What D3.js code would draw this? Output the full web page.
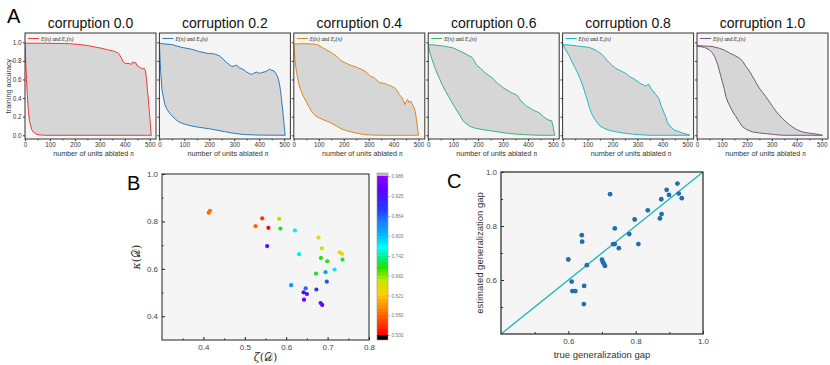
<!DOCTYPE html>
<html><head><meta charset="utf-8">
<script src="https://cdn.jsdelivr.net/npm/d3@7"></script>
<style>
html,body{margin:0;padding:0;background:#fff;}
svg{display:block;font-family:"Liberation Sans",Arial,sans-serif;}
</style></head>
<body><svg id="chart" width="830" height="365"></svg>
<script>
// ---------- DATA ----------
const corruptions = ["0.0","0.2","0.4","0.6","0.8","1.0"];
const seriesColors = ["#f0393c","#2b7bba","#d88a1c","#3cb371","#1fb8c3","#7d5480"];
const xTicksA = [0,100,200,300,400,500];
const yTicksA = [0,0.2,0.4,0.6,0.8,1.0];

// E(n) (upper) and E_r(n) (lower) per corruption level: [n, accuracy]
const upper00 = [[0,0.99],[60,0.99],[120,0.988],[180,0.985],[220,0.975],[250,0.965],[280,0.95],[300,0.94],[330,0.92],[350,0.91],[365,0.895],[375,0.88],[385,0.84],[393,0.79],[405,0.77],[417,0.775],[425,0.76],[432,0.79],[437,0.775],[443,0.785],[450,0.745],[460,0.73],[470,0.715],[478,0.72],[483,0.69],[487,0.6],[490,0.5],[494,0.4],[497,0.3],[500,0.2],[502,0.14],[503,0.1],[505,0.02],[507,0]];
const lower00 = [[0,0.99],[3,0.8],[6,0.6],[9,0.45],[13,0.28],[18,0.15],[22,0.11],[27,0.06],[33,0.035],[45,0.012],[60,0.004],[80,0],[507,0]];
const upper02 = [[0,0.99],[10,0.985],[50,0.975],[90,0.945],[130,0.925],[160,0.9],[195,0.88],[220,0.875],[240,0.855],[255,0.82],[268,0.785],[280,0.76],[290,0.74],[300,0.745],[310,0.755],[320,0.725],[335,0.71],[350,0.68],[360,0.665],[370,0.655],[380,0.67],[390,0.68],[400,0.665],[410,0.675],[420,0.68],[430,0.69],[440,0.71],[450,0.7],[460,0.69],[468,0.66],[475,0.62],[480,0.57],[485,0.49],[490,0.37],[495,0.25],[499,0.13],[502,0.05],[504,0]];
const lower02 = [[0,1.0],[3,0.8],[6,0.65],[10,0.5],[15,0.42],[22,0.33],[30,0.28],[40,0.24],[50,0.21],[65,0.17],[80,0.14],[100,0.12],[130,0.1],[160,0.085],[200,0.07],[230,0.055],[260,0.04],[300,0.02],[340,0.008],[400,0.002],[504,0]];
const upper04 = [[0,0.98],[30,0.985],[70,0.983],[95,0.975],[110,0.95],[130,0.92],[150,0.89],[170,0.855],[190,0.8],[210,0.775],[230,0.75],[250,0.735],[270,0.71],[285,0.69],[300,0.655],[310,0.63],[320,0.625],[330,0.6],[345,0.565],[360,0.56],[375,0.545],[390,0.53],[405,0.51],[415,0.48],[422,0.44],[432,0.41],[440,0.37],[445,0.33],[450,0.36],[456,0.385],[462,0.35],[468,0.37],[474,0.34],[480,0.31],[486,0.26],[490,0.2],[494,0.12],[497,0.05],[500,0]];
const lower04 = [[0,0.98],[5,0.8],[10,0.7],[15,0.62],[20,0.55],[30,0.47],[40,0.41],[50,0.36],[60,0.31],[70,0.26],[80,0.23],[90,0.2],[100,0.19],[115,0.17],[130,0.155],[150,0.13],[170,0.1],[190,0.07],[210,0.05],[240,0.03],[270,0.012],[300,0.004],[350,0],[500,0]];
const upper06 = [[0,0.975],[30,0.97],[60,0.96],[100,0.94],[120,0.915],[140,0.89],[160,0.86],[175,0.84],[185,0.8],[195,0.75],[210,0.72],[225,0.68],[245,0.64],[260,0.61],[275,0.565],[290,0.535],[301,0.51],[320,0.48],[335,0.455],[350,0.44],[360,0.42],[368,0.38],[380,0.35],[395,0.31],[410,0.29],[421,0.27],[435,0.255],[448,0.236],[455,0.22],[461,0.2],[470,0.185],[481,0.165],[495,0.155],[501,0.09],[505,0.03],[508,0]];
const lower06 = [[0,0.975],[8,0.88],[15,0.82],[25,0.74],[35,0.67],[47,0.6],[55,0.55],[70,0.47],[81,0.42],[100,0.33],[121,0.24],[141,0.15],[155,0.12],[168,0.095],[190,0.075],[210,0.065],[240,0.052],[261,0.044],[300,0.028],[328,0.018],[381,0.007],[448,0],[508,0]];
const upper08 = [[0,0.975],[30,0.97],[60,0.96],[107,0.945],[130,0.92],[150,0.885],[165,0.85],[180,0.8],[195,0.76],[213,0.72],[235,0.69],[253,0.665],[270,0.63],[290,0.6],[310,0.56],[333,0.53],[345,0.55],[355,0.5],[373,0.44],[385,0.4],[395,0.32],[405,0.25],[413,0.2],[420,0.14],[430,0.1],[445,0.06],[460,0.045],[480,0.025],[500,0.01],[510,0]];
const lower08 = [[0,0.975],[10,0.93],[27,0.85],[47,0.74],[60,0.67],[67,0.63],[80,0.54],[93,0.43],[100,0.37],[107,0.3],[117,0.23],[127,0.18],[140,0.13],[150,0.1],[170,0.07],[187,0.054],[210,0.04],[240,0.025],[275,0.014],[307,0.007],[347,0],[510,0]];
const upper10 = [[0,0.965],[30,0.96],[60,0.955],[90,0.935],[110,0.915],[130,0.885],[150,0.86],[170,0.83],[185,0.79],[196,0.74],[210,0.69],[223,0.63],[236,0.57],[249,0.51],[263,0.46],[276,0.415],[290,0.36],[303,0.31],[316,0.26],[329,0.22],[343,0.18],[356,0.145],[370,0.115],[383,0.09],[400,0.06],[423,0.036],[445,0.025],[463,0.018],[485,0.01],[503,0]];
const lower10 = [[0,0.96],[30,0.945],[49,0.92],[60,0.89],[70,0.85],[76,0.81],[83,0.76],[89,0.7],[96,0.63],[103,0.56],[110,0.49],[116,0.415],[125,0.35],[136,0.29],[146,0.24],[156,0.2],[170,0.14],[183,0.09],[200,0.06],[223,0.036],[250,0.025],[276,0.018],[310,0.008],[343,0],[503,0]];
const upperSeries = [upper00,upper02,upper04,upper06,upper08,upper10];
const lowerSeries = [lower00,lower02,lower04,lower06,lower08,lower10];

// Panel B: zeta(D), kappa(D), colour value
const zetaVals  = [0.413,0.416,0.526,0.542,0.557,0.554,0.583,0.586,0.621,0.631,0.612,0.647,0.642,0.650,0.643,0.673,0.672,0.678,0.686,0.684,0.699,0.695,0.698,0.717,0.729,0.735,0.736,0.683,0.687];
const kappaVals = [0.837,0.845,0.780,0.813,0.773,0.696,0.811,0.770,0.762,0.662,0.531,0.518,0.501,0.494,0.470,0.513,0.580,0.732,0.686,0.646,0.632,0.586,0.546,0.597,0.670,0.663,0.639,0.456,0.448];
const colorVals = [0.56,0.57,0.565,0.535,0.505,0.93,0.675,0.715,0.76,0.78,0.83,0.86,0.935,0.94,0.955,0.89,0.715,0.645,0.665,0.71,0.705,0.82,0.87,0.78,0.65,0.64,0.72,0.92,0.95];
const cbarTickVals = [0.5000,0.5609,0.6211,0.6820,0.7420,0.8030,0.8640,0.9251,0.9869];
const cbarTickLabels = ["0.500","0.560","0.621","0.682","0.742","0.803","0.864","0.925","0.986"];

// Panel C: true vs estimated generalization gap
const trueGap = [0.600,0.610,0.612,0.621,0.640,0.641,0.647,0.646,0.655,0.700,0.703,0.706,0.709,0.724,0.733,0.738,0.738,0.750,0.781,0.797,0.808,0.836,0.872,0.877,0.876,0.892,0.899,0.924,0.928,0.937];
const estGap  = [0.676,0.594,0.559,0.559,0.766,0.742,0.578,0.511,0.655,0.675,0.666,0.659,0.652,0.918,0.733,0.733,0.791,0.718,0.770,0.824,0.733,0.858,0.828,0.844,0.899,0.934,0.915,0.957,0.920,0.903];

// ---------- DRAW ----------
const svg = d3.select("#chart");
const bg = "#f5f5f5";

// Panel A
const aTop = 33, aBot = 139, aW = 131;
const xA = d3.scaleLinear().domain([0,525]).range([0,aW]);
const yA = d3.scaleLinear().domain([-0.04,1.1]).range([aBot,aTop]);
const lineA = d3.line().x(d=>xA(d[0])).y(d=>yA(d[1]));

svg.append("text").attr("x",7).attr("y",23).attr("font-size",20).text("A");

corruptions.forEach((c,i)=>{
  const left = 25 + i*134.4;
  const g = svg.append("g").attr("transform",`translate(${left},0)`);
  const cid = "clipA"+i;
  g.append("clipPath").attr("id",cid).append("rect")
    .attr("x",0).attr("y",aTop).attr("width",aW).attr("height",aBot-aTop);
  g.append("rect").attr("x",0).attr("y",aTop).attr("width",aW).attr("height",aBot-aTop).attr("fill",bg);
  const pg = g.append("g").attr("clip-path",`url(#${cid})`);
  const up = upperSeries[i], lo = lowerSeries[i];
  const poly = up.concat(lo.slice().reverse());
  pg.append("path").attr("d",lineA(poly)+"Z").attr("fill","#d6d6d6");
  [lo,up].forEach(s=>{
    pg.append("path").attr("d",lineA(s)).attr("fill","none")
      .attr("stroke",seriesColors[i]).attr("stroke-width",1);
  });
  // legend
  pg.append("line").attr("x1",3).attr("x2",14).attr("y1",38.5).attr("y2",38.5)
    .attr("stroke",seriesColors[i]).attr("stroke-width",1);
  const lt = pg.append("text").attr("x",16).attr("y",40.5)
    .attr("font-family","'Liberation Serif','Times New Roman',serif").attr("font-size",5.6).attr("fill","#222");
  lt.append("tspan").attr("font-style","italic").text("E(n)");
  lt.append("tspan").text(" and ");
  lt.append("tspan").attr("font-style","italic").text("E");
  lt.append("tspan").attr("font-style","italic").attr("font-size",4).attr("dy",1).text("r");
  lt.append("tspan").attr("font-style","italic").attr("dy",-1).text("(n)");
  // frame
  g.append("rect").attr("x",0).attr("y",aTop).attr("width",aW).attr("height",aBot-aTop)
    .attr("fill","none").attr("stroke","#333").attr("stroke-width",1);
  // axes
  const xa = g.append("g").attr("transform",`translate(0,${aBot})`)
    .call(d3.axisBottom(xA).tickValues(xTicksA).tickSize(2).tickPadding(1.5));
  xa.select(".domain").remove();
  xa.selectAll("text").attr("font-size",6.3).attr("fill","#333")
    .attr("font-family","'Liberation Sans',Arial,sans-serif");
  xa.selectAll("line").attr("stroke","#333");
  g.append("g").attr("transform",`translate(0,${aBot})`)
    .call(d3.axisBottom(xA).tickValues([50,150,250,350,450]).tickSize(1.3).tickFormat(""))
    .call(s=>s.select(".domain").remove()).selectAll("line").attr("stroke","#333");
  const ya = g.append("g").call(d3.axisLeft(yA).tickValues(yTicksA).tickSize(2).tickPadding(1.5)
    .tickFormat(i===0 ? d3.format(".1f") : ""));
  ya.select(".domain").remove();
  ya.selectAll("text").attr("font-size",6.3).attr("fill","#333")
    .attr("font-family","'Liberation Sans',Arial,sans-serif");
  ya.selectAll("line").attr("stroke","#333");
  // labels
  const xl = g.append("text").attr("x",aW/2+3).attr("y",156).attr("text-anchor","middle")
    .attr("font-size",7.2).attr("fill","#333");
  xl.append("tspan").text("number of units ablated ");
  xl.append("tspan").attr("font-style","italic").attr("font-family","'Liberation Serif',serif").text("n");
  g.append("text").attr("x",aW/2).attr("y",28).attr("text-anchor","middle")
    .attr("font-size",14).attr("fill","#111").text("corruption "+c);
});
svg.append("text").attr("transform",`translate(11,${(aTop+aBot)/2}) rotate(-90)`)
  .attr("text-anchor","middle").attr("font-size",7.2).attr("fill","#333").text("training accuracy");

// Panel B
const bL=162,bR=369,bT=174,bB=340;
const xB = d3.scaleLinear().domain([0.3,0.8]).range([bL,bR]);
const yB = d3.scaleLinear().domain([0.3,1.0]).range([bB,bT]);
const colB = d3.scaleLinear()
  .domain([0.5,0.515,0.546,0.586,0.627,0.668,0.708,0.74,0.769,0.81,0.85,0.881,0.942,0.987])
  .range(["#ff0000","#ff1500","#ff4a00","#ff8c00","#ffd000","#c8e600","#22e000","#00f090","#00ffff","#00b4ff","#1e78ff","#2040ff","#5a00ff","#9000ff"]);
svg.append("text").attr("x",127).attr("y",190).attr("font-size",20).text("B");
svg.append("rect").attr("x",bL).attr("y",bT).attr("width",bR-bL).attr("height",bB-bT).attr("fill",bg);
svg.append("g").selectAll("circle").data(zetaVals).join("circle")
  .attr("cx",d=>xB(d)).attr("cy",(d,i)=>yB(kappaVals[i])).attr("r",2.1)
  .attr("fill",(d,i)=>colB(colorVals[i]));
svg.append("rect").attr("x",bL).attr("y",bT).attr("width",bR-bL).attr("height",bB-bT)
  .attr("fill","none").attr("stroke","#222").attr("stroke-width",1);
const xbA = svg.append("g").attr("transform",`translate(0,${bB})`)
  .call(d3.axisBottom(xB).tickValues([0.4,0.5,0.6,0.7,0.8]).tickFormat(d3.format(".1f")).tickSize(-3).tickPadding(4));
const ybA = svg.append("g").attr("transform",`translate(${bL},0)`)
  .call(d3.axisLeft(yB).tickValues([0.4,0.6,0.8,1.0]).tickFormat(d3.format(".1f")).tickSize(-3).tickPadding(4));
[xbA,ybA].forEach(a=>{a.select(".domain").remove();
  a.selectAll("text").attr("font-size",8).attr("fill","#444").attr("font-family","'Liberation Sans',Arial,sans-serif");
  a.selectAll("line").attr("stroke","#222");});
svg.append("g").attr("transform",`translate(0,${bB})`)
  .call(d3.axisBottom(xB).tickValues([0.35,0.45,0.55,0.65,0.75]).tickSize(-1.5).tickFormat(""))
  .call(s=>s.select(".domain").remove()).selectAll("line").attr("stroke","#222");
svg.append("g").attr("transform",`translate(${bL},0)`)
  .call(d3.axisLeft(yB).tickValues([0.5,0.7,0.9]).tickSize(-1.5).tickFormat(""))
  .call(s=>s.select(".domain").remove()).selectAll("line").attr("stroke","#222");
const serif = "'DejaVu Serif','Liberation Serif',serif";
const kl = svg.append("text").attr("transform",`translate(140,${(bT+bB)/2}) rotate(-90)`)
  .attr("text-anchor","middle").attr("font-size",11).attr("fill","#333").attr("font-family",serif);
kl.append("tspan").attr("font-style","italic").text("κ");
kl.append("tspan").text("(𝒟)");
const zl = svg.append("text").attr("x",(bL+bR)/2).attr("y",361)
  .attr("text-anchor","middle").attr("font-size",11).attr("fill","#333").attr("font-family",serif);
zl.append("tspan").attr("font-style","italic").text("ζ");
zl.append("tspan").text("(𝒟)");

// colorbar
const cbL=377, cbW=11, cbT=173, cbB=340;
const yCB = d3.scaleLinear().domain([0.5,0.9869]).range([335,176]);
const nb = 48;
const bands = d3.range(nb).map(k=>0.5 + (k+0.5)*(0.9869-0.5)/nb);
const bh = (335-176)/nb;
svg.append("g").selectAll("rect").data(bands).join("rect")
  .attr("x",cbL).attr("width",cbW).attr("y",d=>yCB(d)-bh/2-0.3).attr("height",bh+0.6)
  .attr("fill",d=>colB(d));
svg.append("rect").attr("x",cbL).attr("y",cbT).attr("width",cbW).attr("height",176-cbT).attr("fill","#b8b8b8");
svg.append("rect").attr("x",cbL).attr("y",335).attr("width",cbW).attr("height",cbB-335).attr("fill","#000");
svg.append("rect").attr("x",cbL).attr("y",cbT).attr("width",cbW).attr("height",cbB-cbT)
  .attr("fill","none").attr("stroke","#999").attr("stroke-width",0.6);
const cbA = svg.append("g").attr("transform",`translate(${cbL+cbW},0)`)
  .call(d3.axisRight(yCB).tickValues(cbarTickVals).tickFormat((d,i)=>cbarTickLabels[i]).tickSize(2).tickPadding(1.5));
cbA.select(".domain").remove();
cbA.selectAll("text").attr("font-size",4.8).attr("fill","#777");
cbA.selectAll("line").attr("stroke","#888").attr("stroke-width",0.6);

// Panel C
const cL=501,cR=703,cT=172,cB=334;
const xC = d3.scaleLinear().domain([0.4,1.0]).range([cL,cR]);
const yC = d3.scaleLinear().domain([0.4,1.0]).range([cB,cT]);
svg.append("text").attr("x",447).attr("y",188).attr("font-size",20).text("C");
svg.append("rect").attr("x",cL).attr("y",cT).attr("width",cR-cL).attr("height",cB-cT).attr("fill",bg);
svg.append("line").attr("x1",xC(0.4)).attr("y1",yC(0.4)).attr("x2",xC(1.0)).attr("y2",yC(1.0))
  .attr("stroke","#1fb3bd").attr("stroke-width",1.3);
svg.append("g").selectAll("circle").data(trueGap).join("circle")
  .attr("cx",d=>xC(d)).attr("cy",(d,i)=>yC(estGap[i])).attr("r",2.4).attr("fill","#1f6fb2");
svg.append("rect").attr("x",cL).attr("y",cT).attr("width",cR-cL).attr("height",cB-cT)
  .attr("fill","none").attr("stroke","#333").attr("stroke-width",1.3);
const xcA = svg.append("g").attr("transform",`translate(0,${cB})`)
  .call(d3.axisBottom(xC).tickValues([0.6,0.8,1.0]).tickFormat(d3.format(".1f")).tickSize(-3).tickPadding(4));
const ycA = svg.append("g").attr("transform",`translate(${cL},0)`)
  .call(d3.axisLeft(yC).tickValues([0.6,0.8,1.0]).tickFormat(d3.format(".1f")).tickSize(-3).tickPadding(4));
[xcA,ycA].forEach(a=>{a.select(".domain").remove();
  a.selectAll("text").attr("font-size",8).attr("fill","#444").attr("font-family","'Liberation Sans',Arial,sans-serif");
  a.selectAll("line").attr("stroke","#333");});
svg.append("g").attr("transform",`translate(0,${cB})`)
  .call(d3.axisBottom(xC).tickValues([0.5,0.7,0.9]).tickSize(-2).tickFormat(""))
  .call(s=>s.select(".domain").remove()).selectAll("line").attr("stroke","#333");
svg.append("g").attr("transform",`translate(${cL},0)`)
  .call(d3.axisLeft(yC).tickValues([0.5,0.7,0.9]).tickSize(-2).tickFormat(""))
  .call(s=>s.select(".domain").remove()).selectAll("line").attr("stroke","#333");
svg.append("text").attr("x",(cL+cR)/2).attr("y",358).attr("text-anchor","middle")
  .attr("font-size",9.5).attr("fill","#333").text("true generalization gap");
svg.append("text").attr("transform",`translate(483,${(cT+cB)/2}) rotate(-90)`)
  .attr("text-anchor","middle").attr("font-size",9.5).attr("fill","#333").text("estimated generalization gap");
</script></body></html>
